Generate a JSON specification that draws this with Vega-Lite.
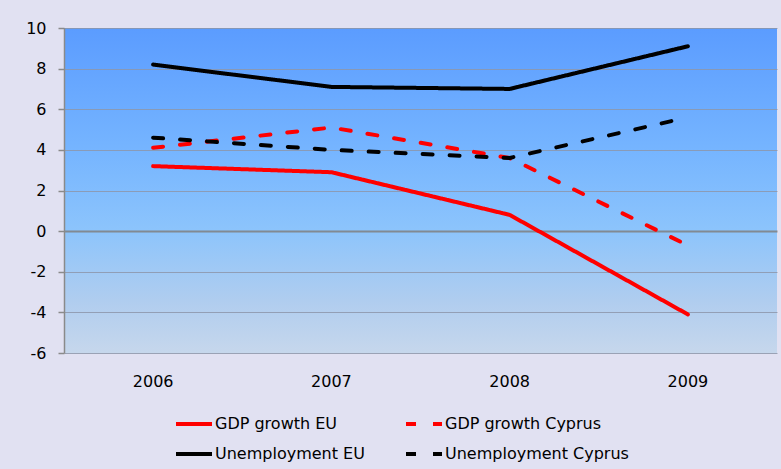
{
  "$schema": "https://vega.github.io/schema/vega-lite/v6.json",
  "width": 713,
  "height": 325,
  "autosize": {"type": "none"},
  "padding": {"left": 64, "top": 28, "right": 4, "bottom": 116},
  "background": "#e1e1f2",
  "view": {
    "stroke": null,
    "fill": {
      "gradient": "linear",
      "x1": 0, "y1": 0, "x2": 0, "y2": 1,
      "stops": [
        {"offset": 0, "color": "#5b9cff"},
        {"offset": 0.38, "color": "#76b5ff"},
        {"offset": 0.62, "color": "#8cc4fc"},
        {"offset": 0.84, "color": "#b0cdef"},
        {"offset": 1, "color": "#c6d7ec"}
      ]
    }
  },
  "data": {
    "values": [
      {"year": "2006", "series": "GDP growth EU", "value": 3.2},
      {"year": "2007", "series": "GDP growth EU", "value": 2.9},
      {"year": "2008", "series": "GDP growth EU", "value": 0.8},
      {"year": "2009", "series": "GDP growth EU", "value": -4.1},
      {"year": "2006", "series": "GDP growth Cyprus", "value": 4.1},
      {"year": "2007", "series": "GDP growth Cyprus", "value": 5.1},
      {"year": "2008", "series": "GDP growth Cyprus", "value": 3.6},
      {"year": "2009", "series": "GDP growth Cyprus", "value": -0.7},
      {"year": "2006", "series": "Unemployment EU", "value": 8.2},
      {"year": "2007", "series": "Unemployment EU", "value": 7.1},
      {"year": "2008", "series": "Unemployment EU", "value": 7.0},
      {"year": "2009", "series": "Unemployment EU", "value": 9.1},
      {"year": "2006", "series": "Unemployment Cyprus", "value": 4.6},
      {"year": "2007", "series": "Unemployment Cyprus", "value": 4.0},
      {"year": "2008", "series": "Unemployment Cyprus", "value": 3.6},
      {"year": "2009", "series": "Unemployment Cyprus", "value": 5.6}
    ]
  },
  "mark": {"type": "line", "strokeWidth": 4, "strokeCap": "round", "strokeJoin": "round", "interpolate": "linear"},
  "encoding": {
    "x": {
      "field": "year", "type": "nominal", "title": null,
      "scale": {"type": "band", "paddingInner": 0, "paddingOuter": 0},
      "axis": {
        "domain": false, "ticks": false, "labelAngle": 0, "labelPadding": 20,
        "labelFont": "DejaVu Sans", "labelFontSize": 16, "labelColor": "#000000"
      }
    },
    "y": {
      "field": "value", "type": "quantitative", "title": null,
      "scale": {"domain": [-6, 10], "nice": false, "zero": false},
      "axis": {
        "values": [-6, -4, -2, 0, 2, 4, 6, 8, 10],
        "labelExpr": "toString(datum.value)",
        "labelFont": "DejaVu Sans", "labelFontSize": 16, "labelColor": "#000000",
        "labelPadding": 12,
        "domain": true, "domainColor": "#8a8a8a", "domainWidth": 1.5,
        "ticks": true, "tickColor": "#8a8a8a", "tickSize": 6, "tickWidth": 1.5,
        "grid": true,
        "gridColor": {"condition": {"test": "datum.value === 0", "value": "#808080"}, "value": "#8d97aa"},
        "gridWidth": {"condition": {"test": "datum.value === 0", "value": 2}, "value": 1},
        "gridOpacity": 0.85
      }
    },
    "color": {
      "field": "series", "type": "nominal", "title": null,
      "scale": {
        "domain": ["GDP growth EU", "GDP growth Cyprus", "Unemployment EU", "Unemployment Cyprus"],
        "range": ["#ff0000", "#ff0000", "#000000", "#000000"]
      },
      "legend": {
        "orient": "none", "legendX": 110, "legendY": 376,
        "direction": "horizontal", "columns": 2,
        "symbolType": "stroke", "symbolSize": 1296, "symbolStrokeWidth": 4,
        "labelFont": "DejaVu Sans", "labelFontSize": 16, "labelColor": "#000000",
        "labelOffset": 1, "columnPadding": 33, "rowPadding": 2, "labelLimit": 300
      }
    },
    "strokeDash": {
      "field": "series", "type": "nominal", "title": null,
      "scale": {
        "domain": ["GDP growth EU", "GDP growth Cyprus", "Unemployment EU", "Unemployment Cyprus"],
        "range": [[1, 0], [10, 17], [1, 0], [10, 17]]
      }
    }
  }
}
